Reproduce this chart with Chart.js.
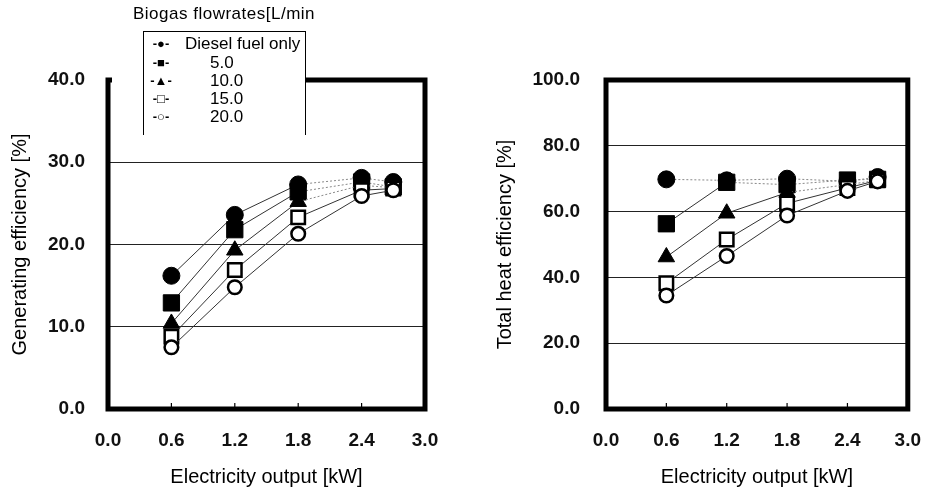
<!DOCTYPE html>
<html>
<head>
<meta charset="utf-8">
<script src="https://cdn.jsdelivr.net/npm/chart.js"></script>
<style>
  body { margin: 0; background: #fff; font-family: Arial, "Liberation Sans", sans-serif; }
  #wrap { position: relative; width: 927px; height: 501px; overflow: hidden; }
  .pane { position: absolute; top: 0; }
  #legendTitle { position: absolute; left: 133px; top: 4px; font-size: 17px; letter-spacing: 0.5px; color: #000; white-space: nowrap; }
  #legendBox { position: absolute; left: 143px; top: 31px; width: 161px; height: 103px; background: #fff;
    border-top: 1px solid #000; border-left: 1px solid #000; border-right: 1px solid #000;
    box-shadow: -31px 0 0 0 #fff; }
  .row { position: absolute; left: 0; height: 18px; font-size: 17px; line-height: 18px; color: #000; white-space: nowrap; }
  .mk { position: absolute; left: 4px; width: 26px; text-align: center; font-size: 13px; font-weight: bold; }
  .lb { position: absolute; }
</style>
</head>
<body>
<div id="wrap">
  <div class="pane" style="left:0"><canvas id="genChart" width="460" height="501"></canvas></div>
  <div class="pane" style="left:460px"><canvas id="heatChart" width="481" height="501"></canvas></div>
  <div id="legendTitle">Biogas flowrates[L/min</div>
  <div id="legendBox"></div>
</div>
<script>
// datos
const electricityOutput = [0.6, 1.2, 1.8, 2.4, 2.7];
const seriesLabels = ['Diesel fuel only', '5.0', '10.0', '15.0', '20.0'];
const legendMarks = ['-●-', '-■-', '-▲-', '-□-', '-○-'];

// Generating efficiency [%]
const genDiesel = [16.2, 23.6, 27.3, 28.1, 27.6];
const gen5 = [12.9, 21.8, 26.4, 27.6, 27.0];
const gen10 = [10.4, 19.3, 25.2, 27.2, 26.9];
const gen15 = [8.8, 16.9, 23.3, 26.6, 26.8];
const gen20 = [7.5, 14.8, 21.3, 25.9, 26.6];

// Total heat efficiency [%]
const heatDiesel = [69.8, 69.5, 70.0, 69.2, 70.5];
const heat5 = [56.3, 68.9, 68.2, 69.6, 69.8];
const heat10 = [46.2, 59.5, 65.8, 68.2, 69.5];
const heat15 = [38.2, 51.5, 62.5, 67.2, 69.5];
const heat20 = [34.5, 46.5, 58.8, 66.3, 69.2];

const xTicks = [0.0, 0.6, 1.2, 1.8, 2.4, 3.0];

// estilo de cada serie (marcador)
const markerStyles = [
  { pointStyle: 'circle', pointRadius: 8.5, fill: '#000', bw: 1 },
  { pointStyle: 'rect', pointRadius: 11.5, fill: '#000', bw: 1 },
  { pointStyle: 'triangle', pointRadius: 9.5, fill: '#000', bw: 1 },
  { pointStyle: 'rect', pointRadius: 9.5, fill: '#fff', bw: 2.5 },
  { pointStyle: 'circle', pointRadius: 6.8, fill: '#fff', bw: 2.5 }
];

// tramos punteados (se ven grises en el original)
function dottedFrom(xStart) {
  return {
    borderDash: c => (c.p0.parsed.x >= xStart - 0.01 ? [2, 2] : undefined),
    borderColor: c => (c.p0.parsed.x >= xStart - 0.01 ? '#888' : '#333')
  };
}

function buildDatasets(seriesList, dotted) {
  return seriesList.map((vals, i) => ({
    label: seriesLabels[i],
    data: vals.map((v, k) => ({ x: electricityOutput[k], y: v })),
    showLine: true,
    tension: 0,
    borderColor: '#333',
    borderWidth: 1,
    segment: dotted[i] !== undefined ? dottedFrom(dotted[i]) : undefined,
    pointStyle: markerStyles[i].pointStyle,
    pointRadius: markerStyles[i].pointRadius,
    pointHoverRadius: markerStyles[i].pointRadius,
    pointBackgroundColor: markerStyles[i].fill,
    pointBorderColor: '#000',
    pointBorderWidth: markerStyles[i].bw,
    order: seriesList.length - 1 - i
  }));
}

// marco grueso y marcas del eje x
const framePlugin = {
  id: 'frame',
  beforeDatasetsDraw(chart) {
    const { ctx, chartArea: a, scales } = chart;
    ctx.save();
    ctx.strokeStyle = '#000';
    ctx.lineWidth = 1.2;
    xTicks.slice(1, -1).forEach(t => {
      const px = scales.x.getPixelForValue(t);
      ctx.beginPath();
      ctx.moveTo(px, a.bottom);
      ctx.lineTo(px, a.bottom - 6);
      ctx.stroke();
    });
    ctx.lineWidth = 5;
    ctx.strokeRect(a.left, a.top, a.right - a.left, a.bottom - a.top);
    ctx.restore();
  }
};

const tickFont = { family: 'Arial, "Liberation Sans", sans-serif', size: 19, weight: 'bold' };
const titleFont = { family: 'Arial, "Liberation Sans", sans-serif', size: 20 };

function makeChart(id, seriesList, dotted, yMax, yStep, yTitle, cfg) {
  const ctx = document.getElementById(id).getContext('2d');
  return new Chart(ctx, {
    type: 'scatter',
    data: { datasets: buildDatasets(seriesList, dotted) },
    options: {
      responsive: false,
      animation: false,
      layout: { padding: { top: cfg.top, right: cfg.right, left: 0, bottom: 0 } },
      plugins: { legend: { display: false }, tooltip: { enabled: false } },
      scales: {
        x: {
          type: 'linear', min: 0, max: 3,
          afterBuildTicks: s => { s.ticks = xTicks.map(v => ({ value: v })); },
          grid: { display: false, drawTicks: false },
          border: { display: false },
          ticks: { color: '#111', font: tickFont, padding: cfg.xPad, callback: v => Number(v).toFixed(1) },
          title: { display: true, text: 'Electricity output [kW]', color: '#000', font: titleFont, padding: { top: 0, bottom: cfg.xTitlePad } },
          afterFit: s => { s.height = cfg.xHeight; }
        },
        y: {
          min: 0, max: yMax,
          ticks: { stepSize: yStep, color: '#111', font: tickFont, padding: cfg.yPad, callback: v => Number(v).toFixed(1) },
          grid: { color: '#222', lineWidth: 1, drawTicks: false },
          border: { display: false },
          title: { display: true, text: yTitle, color: '#000', font: titleFont, padding: { top: cfg.yTitlePad, bottom: 0 } },
          afterFit: s => { s.width = cfg.yWidth; }
        }
      }
    },
    plugins: [framePlugin]
  });
}

makeChart('genChart', [genDiesel, gen5, gen10, gen15, gen20], [1.8, 1.8, 1.8], 40, 10, 'Generating efficiency [%]',
  { top: 80, right: 35, yWidth: 108, xHeight: 92, yPad: 23, xPad: 20, yTitlePad: 8, xTitlePad: 12 });
makeChart('heatChart', [heatDiesel, heat5, heat10, heat15, heat20], [0.6, 1.2, 1.8], 100, 20, 'Total heat efficiency [%]',
  { top: 80, right: 4, yWidth: 146, xHeight: 92, yPad: 26, xPad: 20, yTitlePad: 33, xTitlePad: 12 });

// leyenda
const box = document.getElementById('legendBox');
const rowTops = [3, 22, 40, 58, 76];
seriesLabels.forEach((lab, i) => {
  const row = document.createElement('div');
  row.className = 'row';
  row.style.top = rowTops[i] + 'px';
  row.innerHTML = '<span class="mk">' + legendMarks[i] + '</span>' +
    '<span class="lb" style="left:' + (i === 0 ? 41 : 66) + 'px">' + lab + '</span>';
  box.appendChild(row);
});
</script>
</body>
</html>
